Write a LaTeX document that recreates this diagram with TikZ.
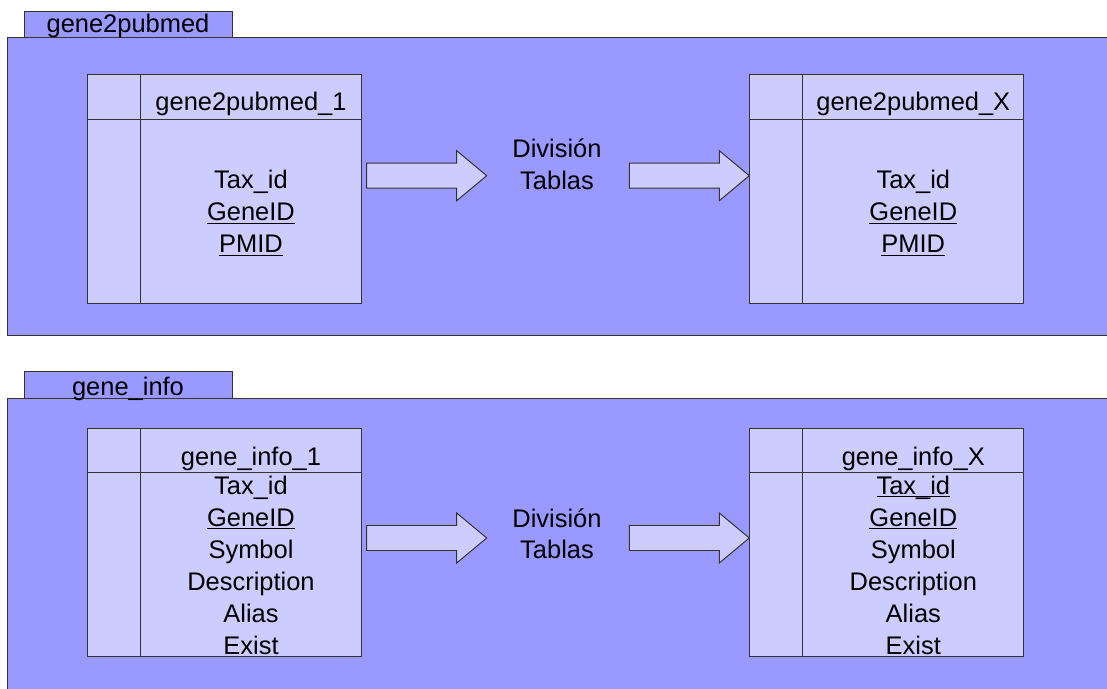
\documentclass[tikz,border=0pt]{standalone}
\usepackage{fontspec}
\setmainfont{Liberation Sans}
\usepackage{xcolor}
\usepackage{tikz}
\usetikzlibrary{positioning,calc}
\definecolor{panelblue}{HTML}{9999FF}
\definecolor{cellblue}{HTML}{CCCCFF}
\definecolor{linegray}{HTML}{333333}
\tikzstyle{frame}=[draw=linegray, fill=panelblue, line width=0.7pt]
\tikzstyle{tbl}=[rectangle, draw=linegray, fill=cellblue, line width=0.7pt, minimum width=6.85cm, minimum height=5.7cm, inner sep=0pt]
\tikzstyle{txt}=[inner sep=0pt, anchor=base]
\tikzstyle{bigarrow}=[draw=linegray, fill=cellblue, line width=0.7pt, line join=miter]
\newcommand{\keyfield}[1]{\underline{\smash{#1}}}

\begin{document}
\begin{tikzpicture}[x=0.025cm, y=-0.025cm, font=\fontsize{18.1}{22.8}\selectfont]
	\useasboundingbox (0,0) rectangle (1107,689);
	\clip (0,0) rectangle (1107,689);
	% gene2pubmed
	\draw[frame] (24.3,11.7) rectangle (232.7,37.7);
	\draw[frame] (7.3,37.7) rectangle (1120,335.7);
	\node[txt] (tabA) at (128,33) {gene2pubmed};
	\node[tbl] (g1) at (224.2,189) {};
	\node[tbl] (gX) at (886.3,189) {};
	\node[txt] (g1name) at (251,111) {gene2pubmed\_1};
	\node[txt] (gXname) at (913.3,111) {gene2pubmed\_X};
	\node[txt] (g1tax) at (251,189) {Tax\_id};
	\node[txt] (g1gene) at (251,221) {\keyfield{GeneID}};
	\node[txt] (g1pmid) at (251,253) {\keyfield{PMID}};
	\node[txt] (gXtax) at (913.3,189) {Tax\_id};
	\node[txt] (gXgene) at (913.3,221) {\keyfield{GeneID}};
	\node[txt] (gXpmid) at (913.3,253) {\keyfield{PMID}};
	\node[txt] (divA1) at (557,158) {División};
	\node[txt] (divA2) at (557,190) {Tablas};
	% gene_info
	\draw[frame] (24.3,371.7) rectangle (232.7,398);
	\draw[frame] (7.3,398) rectangle (1120,700);
	\node[txt] (tabB) at (128,395) {gene\_info};
	\node[tbl] (i1) at (224.2,542.5) {};
	\node[tbl] (iX) at (886.3,542.5) {};
	\node[txt] (i1name) at (251,465) {gene\_info\_1};
	\node[txt] (iXname) at (913.3,465) {gene\_info\_X};
	\node[txt] (i1tax) at (251,494) {Tax\_id};
	\node[txt] (i1gene) at (251,526) {\keyfield{GeneID}};
	\node[txt] (i1sym) at (251,558) {Symbol};
	\node[txt] (i1desc) at (251,590) {Description};
	\node[txt] (i1alias) at (251,622) {Alias};
	\node[txt] (i1exist) at (251,654) {Exist};
	\node[txt] (iXtax) at (913.3,494) {\keyfield{Tax\_id}};
	\node[txt] (iXgene) at (913.3,526) {\keyfield{GeneID}};
	\node[txt] (iXsym) at (913.3,558) {Symbol};
	\node[txt] (iXdesc) at (913.3,590) {Description};
	\node[txt] (iXalias) at (913.3,622) {Alias};
	\node[txt] (iXexist) at (913.3,654) {Exist};
	\node[txt] (divB1) at (557,527) {División};
	\node[txt] (divB2) at (557,558) {Tablas};
	% table rules
	\foreach \t in {g1,gX,i1,iX} {
		\draw[draw=linegray, line width=0.7pt] ($(\t.north west)+(54,0)$) -- ($(\t.south west)+(54,0)$);
		\draw[draw=linegray, line width=0.7pt] ($(\t.north west)+(0,45)$) -- ($(\t.north east)+(0,45)$);
	}
	% block arrows
	\foreach \ax/\ay in {366.7/175.7, 629.3/175.7, 366.7/538, 629.3/538} {
		\draw[bigarrow] (\ax,\ay-12.5) -- ++(90,0) -- ++(0,-12.5) -- ++(30,25) -- ++(-30,25) -- ++(0,-12.5) -- ++(-90,0) -- cycle;
	}
\end{tikzpicture}
\end{document}
